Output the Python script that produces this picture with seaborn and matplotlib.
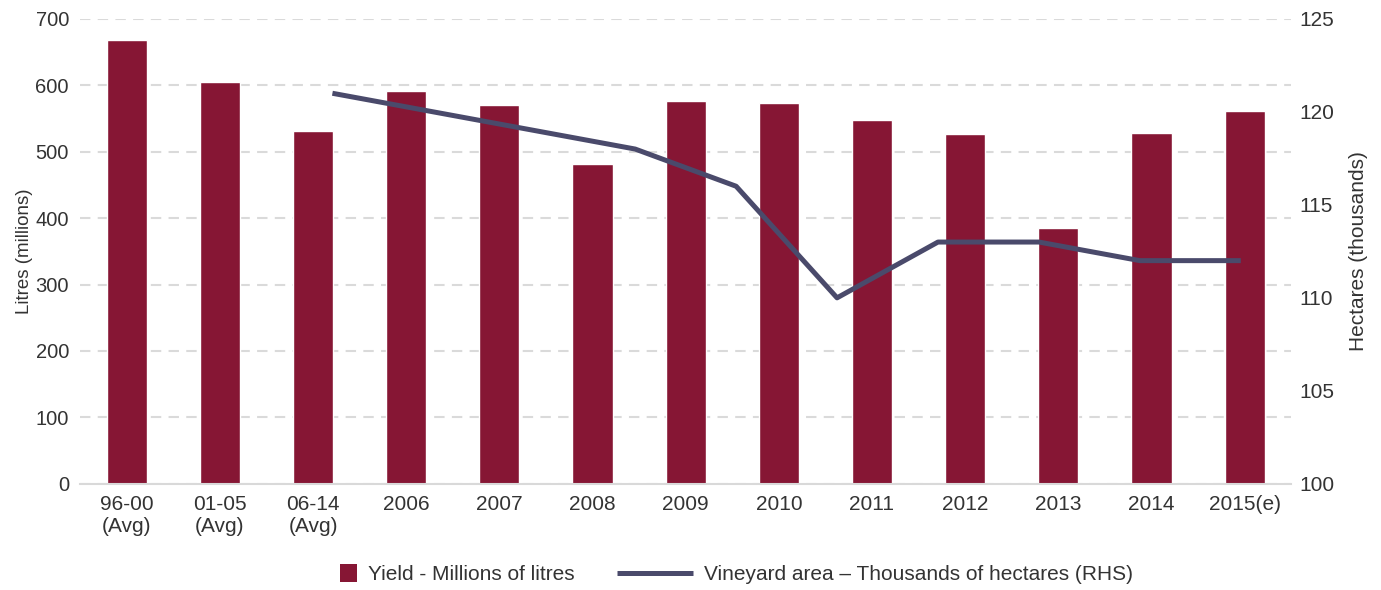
import seaborn as sns
import matplotlib.pyplot as plt
import numpy as np
import pandas as pd
from matplotlib.patches import Patch, Rectangle
from matplotlib.lines import Line2D
from matplotlib.legend_handler import HandlerPatch

# 数据
categories = ["96-00\n(Avg)", "01-05\n(Avg)", "06-14\n(Avg)", "2006", "2007", "2008",
              "2009", "2010", "2011", "2012", "2013", "2014", "2015(e)"]
yield_ml = [668, 605, 531, 591, 570, 482, 577, 573, 548, 527, 385, 528, 561]

# 葡萄园面积 (千公顷), 次坐标轴上有12个类别, 前两个为空
area_slots = 12
area_start = 2
vineyard_area = [121, 120, 119, 118, 116, 110, 113, 113, 112, 112]

bar_color = "#861634"
line_color = "#4a4a6b"
text_color = "#333333"

sns.set_style("white")
plt.rcParams['font.family'] = ['Liberation Sans', 'DejaVu Sans']
plt.rcParams['font.size'] = 15

fig = plt.figure(figsize=(13.81, 5.90), dpi=100)
ax = fig.add_axes([0.058, 0.180, 0.877, 0.788])

df = pd.DataFrame({"cat": categories, "yield": yield_ml})
sns.barplot(data=df, x="cat", y="yield", color=bar_color, width=0.43,
            saturation=1, ax=ax)
ax.set_xlim(-0.5, len(categories) - 0.5)
ax.set_ylim(0, 700)
ax.set_yticks(range(0, 701, 100))
ax.set_xlabel("")
ax.set_ylabel("Litres (millions)", fontsize=13.5, color=text_color, labelpad=2)
ax.yaxis.grid(True, color="#dadada", linestyle=(0, (5, 3.5)), linewidth=1.5)
ax.set_axisbelow(True)
for s in ["top", "right", "left"]:
    ax.spines[s].set_visible(False)
ax.spines["bottom"].set_color("#d9d9d9")
ax.spines["bottom"].set_linewidth(1.5)
ax.tick_params(axis="both", length=0, colors=text_color)
ax.tick_params(axis="y", pad=8, labelsize=14.5)
ax.tick_params(axis="x", pad=8, labelsize=15)

# 次坐标轴
ax2 = ax.twinx()
ax2.set_ylim(100, 125)
ax2.set_yticks(range(100, 126, 5))
ax2.set_ylabel("Hectares (thousands)", fontsize=15, color=text_color, labelpad=10)
ax2.tick_params(axis="y", length=0, labelsize=15, colors=text_color, pad=6)
for s in ax2.spines.values():
    s.set_visible(False)

ax3 = ax2.twiny()
ax3.set_xlim(-0.5, area_slots - 0.5)
line_x = np.arange(len(vineyard_area)) + area_start
sns.lineplot(x=line_x, y=vineyard_area, color=line_color, linewidth=3.6,
             solid_capstyle="butt", ax=ax3)
ax3.set_xticks([])
for s in ax3.spines.values():
    s.set_visible(False)


def square_patch(legend, orig_handle, xdescent, ydescent, width, height, fontsize):
    size = 12.5
    return Rectangle((width - size - xdescent, -ydescent + (height - size) / 2), size, size)


handles = [Patch(facecolor=bar_color, edgecolor="none"),
           Line2D([0], [0], color=line_color, linewidth=3.6, solid_capstyle="butt")]
labels = ["Yield - Millions of litres", "Vineyard area \u2013 Thousands of hectares (RHS)"]
leg = fig.legend(handles, labels, loc="center", bbox_to_anchor=(0.512, 0.026),
                 ncol=2, frameon=False, fontsize=15, handlelength=3.65,
                 columnspacing=2.0, handletextpad=0.55,
                 handler_map={Patch: HandlerPatch(patch_func=square_patch)})
for t in leg.get_texts():
    t.set_color(text_color)

fig.savefig("out.png", dpi=100)
